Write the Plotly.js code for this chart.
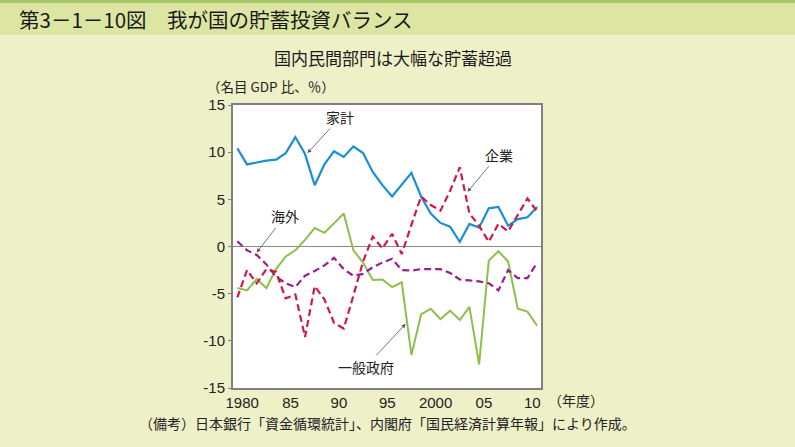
<!DOCTYPE html>
<html>
<head>
<meta charset="utf-8">
<script src="https://cdn.plot.ly/plotly-3.0.1.min.js"></script>
<style>
html,body{margin:0;padding:0;background:#eef0c7;}
#chart{width:795px;height:447px;}
</style>
</head>
<body>
<div id="chart"></div>
<script>
// ---- data (fiscal years, % of nominal GDP) ----
const years = [1980,1981,1982,1983,1984,1985,1986,1987,1988,1989,1990,1991,1992,1993,1994,1995,1996,1997,1998,1999,2000,2001,2002,2003,2004,2005,2006,2007,2008,2009,2010,2011];
const household  = [10.4, 8.7, 8.9, 9.1, 9.2, 9.9, 11.6, 9.8, 6.5, 8.7, 10.1, 9.5, 10.6, 9.9, 7.9, 6.5, 5.3, 6.5, 7.8, 5.3, 3.5, 2.5, 2.1, 0.5, 2.4, 2.0, 4.05, 4.2, 2.2, 2.9, 3.1, 4.2];
const corporate  = [-5.4, -2.5, -3.9, -2.4, -2.7, -5.5, -5.1, -9.6, -4.2, -5.6, -8.1, -8.7, -5.2, -1.6, 1.05, -0.2, 1.35, -0.8, 2.3, 5.3, 4.4, 3.8, 5.9, 8.4, 3.5, 2.2, 0.5, 2.4, 1.6, 3.3, 5.1, 3.7];
const overseas   = [0.55, -0.4, -0.9, -1.9, -3.2, -3.9, -4.3, -3.1, -2.6, -2.0, -1.2, -2.4, -3.1, -2.9, -2.2, -1.7, -1.3, -2.5, -2.55, -2.4, -2.4, -2.4, -2.8, -3.5, -3.6, -3.7, -3.9, -4.65, -2.5, -3.35, -3.35, -1.7];
const government = [-4.4, -4.65, -3.45, -4.4, -2.4, -1.05, -0.4, 0.7, 1.95, 1.45, 2.45, 3.5, -0.4, -1.7, -3.55, -3.5, -4.3, -3.8, -11.5, -7.2, -6.6, -7.7, -6.8, -7.8, -6.4, -12.5, -1.5, -0.5, -1.6, -6.6, -6.9, -8.4];

const tickYears = [1980,1985,1990,1995,2000,2005,2010];
const tickText  = ["1980","85","90","95","2000","05","10"];
const yTicks    = [-15,-10,-5,0,5,10,15];
const yTickText = ["-15","-10","-5","0","5","10","15"];

const seriesNames = ["家計","企業","海外","一般政府"];
const figTitle = "第3－1－10図　我が国の貯蓄投資バランス";
const subTitle = "国内民間部門は大幅な貯蓄超過";
const yUnit = "（名目 GDP 比、％）";
const xUnit = "（年度）";
const note = "（備考）日本銀行「資金循環統計」、内閣府「国民経済計算年報」により作成。";

// ---- layout helpers (pixel -> paper) ----
const W = 795, H = 447;
const L = 233, R = 541, T = 105, B = 388;
const px = X => (X - L) / (R - L);
const py = Y => (B - Y) / (B - T);

const JP = '"Noto Sans CJK JP", "Noto Sans", sans-serif';
const NUM = '"Liberation Sans", Arial, sans-serif';

const traces = [
  {x: years, y: government, name: seriesNames[3], mode: 'lines', line: {color: '#8cc04b', width: 2}},
  {x: years, y: overseas, name: seriesNames[2], mode: 'lines', line: {color: '#9a1f8e', width: 2.2, dash: '7px,4px'}},
  {x: years, y: household, name: seriesNames[0], mode: 'lines', line: {color: '#1b8fd6', width: 2.2}},
  {x: years, y: corporate, name: seriesNames[1], mode: 'lines', line: {color: '#d3174b', width: 2.2, dash: '7px,4px'}}
];

const arrowBase = {showarrow: true, arrowhead: 2, arrowsize: 1, arrowwidth: 0.8, arrowcolor: '#555',
  font: {family: JP, size: 14, color: '#222'}, xref: 'x', yref: 'y'};

const layout = {
  width: W, height: H,
  paper_bgcolor: '#eef0c7',
  plot_bgcolor: '#ffffff',
  showlegend: false,
  margin: {l: L, r: W - R, t: T, b: H - B, pad: 0},
  xaxis: {
    range: [1979.55, 2011.4],
    tickmode: 'array',
    tickvals: tickYears.map(v => v + 0.5),
    ticktext: tickText,
    ticks: '', showgrid: false, zeroline: false,
    showline: true, mirror: true, linecolor: '#808080', linewidth: 2,
    tickfont: {family: NUM, size: 15, color: '#222'},
    fixedrange: true
  },
  yaxis: {
    range: [-15, 15],
    tickmode: 'array',
    tickvals: yTicks,
    ticktext: yTickText,
    ticks: 'outside', ticklen: 3, tickcolor: '#808080',
    showgrid: false,
    zeroline: true, zerolinecolor: '#8a8a8a', zerolinewidth: 1.5,
    showline: true, mirror: true, linecolor: '#808080', linewidth: 2,
    tickfont: {family: NUM, size: 15, color: '#222'},
    fixedrange: true
  },
  shapes: [
    {type: 'rect', xref: 'paper', yref: 'paper', x0: px(0), x1: px(W), y0: py(35), y1: py(3), fillcolor: '#dce6a2', line: {width: 0}, layer: 'below'},
    {type: 'rect', xref: 'paper', yref: 'paper', x0: px(0), x1: px(W), y0: py(3), y1: py(0), fillcolor: '#a6c766', line: {width: 0}, layer: 'below'}
  ],
  annotations: [
    {text: figTitle, xref: 'paper', yref: 'paper', x: px(17), y: py(19), xanchor: 'left', yanchor: 'middle', showarrow: false,
     font: {family: JP, size: 20.5, color: '#1a1a1a'}},
    {text: subTitle, xref: 'paper', yref: 'paper', x: px(393), y: py(58), xanchor: 'center', yanchor: 'middle', showarrow: false,
     font: {family: JP, size: 17, color: '#1a1a1a'}},
    {text: yUnit, xref: 'paper', yref: 'paper', x: px(205), y: py(86), xanchor: 'left', yanchor: 'middle', showarrow: false,
     font: {family: JP, size: 13.5, color: '#222'}},
    {text: xUnit, xref: 'paper', yref: 'paper', x: px(546), y: py(400), xanchor: 'left', yanchor: 'middle', showarrow: false,
     font: {family: JP, size: 14, color: '#222'}},
    {text: note, xref: 'paper', yref: 'paper', x: px(137), y: py(423), xanchor: 'left', yanchor: 'middle', showarrow: false,
     font: {family: JP, size: 14, color: '#222'}},
    Object.assign({}, arrowBase, {text: seriesNames[0], x: 1987.25, y: 9.9, ax: 33, ay: -36}),
    Object.assign({}, arrowBase, {text: seriesNames[1], x: 2003.8, y: 5.8, ax: 31, ay: -37}),
    Object.assign({}, arrowBase, {text: seriesNames[2], x: 1982.0, y: -0.63, ax: 28, ay: -36}),
    Object.assign({}, arrowBase, {text: seriesNames[3], x: 1997.4, y: -8.2, ax: -40, ay: 43})
  ]
};

Plotly.newPlot('chart', traces, layout, {displayModeBar: false, staticPlot: true});
</script>
</body>
</html>
